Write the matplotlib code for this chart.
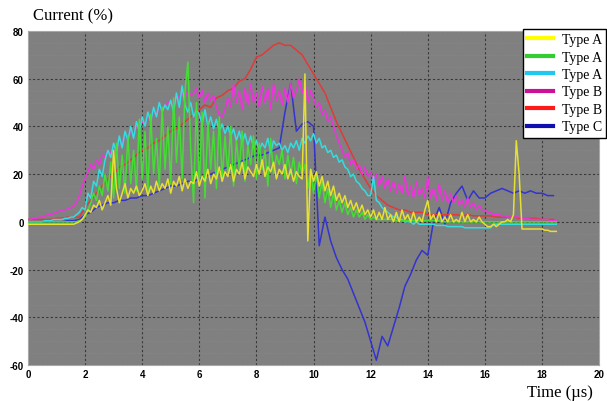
import numpy as np
import matplotlib
matplotlib.use("Agg")
import matplotlib.pyplot as plt
from matplotlib.ticker import MultipleLocator

# time bases (us): fine one for the noisy traces, coarse one for the smooth ones
t_fine = np.round(np.arange(0, 18.55, 0.1), 2)
t_coarse = np.round(np.arange(0, 18.45, 0.2), 2)

yellow_a = [
    -1, -1, -1, -1, -1, -1, -1, -1, -1, -1,
    -1, -1, -1, -1, -1, -1, -1, -0.5, 0, 1,
    3, 5, 4, 7, 6, 9, 5, 8, 11, 7,
    30, 14, 8, 12, 16, 10, 14, 12, 15, 11,
    13, 16, 11, 15, 12, 17, 13, 16, 14, 18,
    12, 17, 15, 19, 13, 18, 14, 17, 16, 21,
    15, 19, 17, 22, 16, 20, 18, 23, 17, 21,
    19, 24, 17, 22, 20, 25, 18, 23, 21, 19,
    24, 20, 26, 19, 23, 21, 25, 18, 22, 20,
    24, 18, 22, 17, 21, 19, 18, 62, -8, 22,
    17, 21, 15, 19, 13, 17, 11, 15, 9, 12,
    8, 11, 6, 9, 5, 8, 4, 7, 3, 5,
    2, 5, 1, 4, 1, 6, 1, 3, 0, 4,
    0, 5, 1, 3, 0, 4, 0, 2, 0, 5,
    9, 1, 3, 0, 4, 0, 2, 0, 3, 0,
    1, 0, 4, 0, 3, 0, 1, 0, 2, 0,
    -1, -2, -2, -1, -2, -1, 0, 0, 1, 0,
    3, 34, 20, -3, -3, -3, -3, -3, -3, -3,
    -3, -3.5, -3.5, -4, -4, -4,
]

green_a = [
    0, 0, 0, 0, 0, 0, 0, 0, 0, 0,
    0, 0, 0, 0, 0, 0, 0, 0, 0.5, 1,
    2, 5, 8, 12, 9, 15, 11, 20, 13, 25,
    10, 33, 14, 28, 12, 36, 16, 30, 13, 43,
    18, 38, 12, 45, 20, 35, 15, 48, 22, 40,
    16, 52, 25, 44, 18, 55, 67, 30, 8, 50,
    15, 46, 10, 42, 22, 38, 14, 44, 18, 36,
    20, 40, 15, 34, 22, 38, 17, 32, 24, 36,
    18, 33, 22, 30, 15, 35, 20, 28, 24, 30,
    18, 28, 20, 27, 16, 25, 20, 24, 14, 22,
    12, 20, 10, 17, 8, 14, 6, 12, 5, 9,
    4, 8, 3, 6, 2, 5, 2, 4, 1, 3,
    1, 2, 1, 1, 1, 1, 1, 1, 1, 0.5,
    0.5, 0.5, 0.5, 0.5, 0.5, 0.5, 0.5, 0.5, 0.5, 0.5,
    0.5, 0.5, 0.5, 0.5, 0.5, 0, 0, 0, 0, 0,
    0, 0, 0, 0, 0, 0, 0, 0, 0, 0,
    0, 0, 0, 0, 0, 0, 0, 0, 0, 0,
    0, 0, 0, 0, 0, 0, 0, 0, 0, 0,
    0, 0, 0, 0, 0, 0,
]

cyan_a = [
    0, 0, 0, 0, 0, 0, 0.5, 0.5, 0.5, 1,
    1, 1, 1, 1.5, 1.5, 2, 2, 3, 4, 6,
    5, 12, 10, 17, 15, 22, 19, 26, 30, 27,
    33, 29, 36, 31, 38, 34, 40, 35, 42, 38,
    44, 40, 46, 42, 48, 44, 50, 46, 49, 47,
    51, 46, 54, 48, 57, 49, 46, 50, 44, 47,
    45, 41, 47, 40, 44, 39, 43, 38, 41, 37,
    40, 36, 39, 34, 38, 33, 37, 32, 36, 31,
    34, 30, 33, 31, 35, 29, 34, 32, 33, 30,
    32, 29, 33, 31, 34, 30, 35, 33, 36, 34,
    37, 33, 35, 31, 32, 29, 30, 27, 28, 25,
    26, 23, 22, 19, 20, 17, 16, 14, 13, 11,
    11, 19, 9, 8, 6, 5, 4, 3, 2, 2,
    1, 1, 0, 0, 0, -1, 0, -1, -1, -1,
    -1, -1, -1, -1.5, -1.5, -1.5, -1.5, -2, -2, -2,
    -2, -2, -2, -2.5, -2.5, -2.5, -2.5, -2.5, -2.5, -2.5,
    -2.5, -2.5, -2.5, -1, -1, -1, -1, -1, -1, -1,
    -1, -1, -1, -1, -1, -1, -1, -1, -1, -1,
    -1, -1, -1, -1, -1, -1,
]

magenta_b = [
    1, 1, 1.5, 1.5, 2, 2, 2.5, 3, 3, 3.5,
    4, 4.5, 5, 5, 5.5, 6, 6.5, 8, 11, 15,
    18, 21, 24, 22, 26, 24, 28, 27, 30, 29,
    32, 30, 34, 33, 36, 35, 38, 37, 40, 39,
    42, 41, 44, 43, 46, 45, 48, 47, 49, 50,
    51, 49, 53, 52, 54, 52, 55, 53, 54, 56,
    52, 55, 50, 54, 51, 53, 48, 45, 44, 47,
    52, 48, 58, 50, 55, 47, 56, 49, 58, 50,
    54, 48, 57, 50, 56, 47, 58, 51, 55, 49,
    56, 50, 58, 52, 55, 60, 54, 58, 50, 55,
    52, 48, 50, 45, 47, 42, 44, 40, 36, 33,
    30, 27, 29, 24, 26, 22, 24, 20, 23, 19,
    21, 17, 20, 15, 19, 14, 18, 13, 17, 12,
    16, 12, 19, 11, 15, 10, 17, 11, 14, 10,
    19, 10, 14, 9, 16, 9, 13, 8, 12, 8,
    11, 7, 9, 6, 10, 6, 8, 5, 7, 5,
    5, 4, 4, 3, 3, 3, 2.5, 2.5, 2, 2,
    2, 2, 2, 1.5, 1.5, 1.5, 1, 1, 1, 1,
    1, 1, 1, 0.5, 0.5, 0.5,
]

red_b = [
    1, 1, 1, 1, 1, 1.5, 1.5, 2, 2, 2,
    6, 9, 12, 15, 18, 20, 23, 24, 26, 28,
    30, 31, 33, 34, 36, 38, 39, 41, 43, 45,
    47, 49, 48, 52, 53, 55, 56, 59, 60, 64,
    69, 70, 72, 74, 75, 74, 74, 72, 70, 66,
    62, 58, 54, 48, 42, 37, 32, 27, 22, 18,
    14, 11, 9, 7, 6, 5, 5, 4, 4, 4,
    3, 3, 3, 3, 3, 3, 2.5, 3, 2.5, 2.5,
    2.5, 2.5, 2, 2, 2, 2, 1.5, 1.5, 1.5, 1.5,
    1, 1, 1,
]

blue_c = [
    0, 0, 0, 0, 0, 0, 0, 0.5, 0.5, 1,
    3, 4, 6, 7, 8, 8, 9, 9, 10, 10,
    11, 11, 12, 13, 14, 15, 15, 16, 17, 17,
    18, 19, 20, 21, 22, 23, 24, 25, 26, 27,
    28, 28, 29, 30, 31, 46, 58, 38, 41, 42,
    40, -10, 2, -8, -15, -20, -24, -30, -36, -42,
    -50, -58, -48, -52, -44, -36, -27, -22, -16, -12,
    -14, 0, 6, -1, 8, 12, 15, 9, 13, 10,
    10, 12, 13, 14, 13, 12, 13, 12, 13, 12,
    12, 11, 11,
]

series = [
    (t_fine, yellow_a, "Type A", "#e6e030", "#ffff00", 7),
    (t_fine, green_a, "Type A", "#44dd33", "#33cc33", 6),
    (t_fine, cyan_a, "Type A", "#33dde0", "#1ec8f0", 5),
    (t_fine, magenta_b, "Type B", "#ee33dd", "#cc1199", 4),
    (t_coarse, red_b, "Type B", "#e03a3a", "#ff1a1a", 3),
    (t_coarse, blue_c, "Type C", "#3333d0", "#1010b0", 2),
]

fig = plt.figure(figsize=(6.07, 4.02), dpi=100)
ax = fig.add_axes([0.046, 0.0896, 0.941, 0.8308])
ax.set_facecolor("#808080")

for t, v, lab, col, lcol, z in series:
    ax.plot(t, v, color=col, lw=1.1, zorder=z)

ax.set_xlim(0, 20)
ax.set_ylim(-60, 80)
ax.set_xticks(range(0, 21, 2))
ax.set_yticks(range(-60, 81, 20))
ax.set_yticklabels(["-60", "-40", "-20", "0", "20", "40", "60", "80"])
ax.yaxis.set_minor_locator(MultipleLocator(5))
ax.tick_params(which="both", length=0)
ax.tick_params(axis="y", pad=3)
ax.tick_params(axis="x", pad=3)
for lbl in ax.get_xticklabels() + ax.get_yticklabels():
    lbl.set_fontfamily("Liberation Sans")
    lbl.set_fontweight("bold")
    lbl.set_fontsize(7)
ax.grid(which="major", color="#383838", linestyle=(0, (2, 2)), lw=0.8)
ax.grid(which="minor", axis="y", color="#959595", linestyle=(0, (1, 3)), lw=0.4)
ax.set_axisbelow(True)
for s in ax.spines.values():
    s.set_color("#a8a8a8")
    s.set_linewidth(0.8)

handles = [plt.Line2D([], [], color=lc, lw=3) for _, _, _, _, lc, _ in series]
labels = [lab for _, _, lab, _, _, _ in series]
leg = ax.legend(handles, labels, loc="upper right", bbox_to_anchor=(1.012, 1.006),
                prop={"family": "Liberation Serif", "size": 10},
                frameon=True, fancybox=False, framealpha=1, edgecolor="black",
                borderpad=0.3, labelspacing=0.32, handlelength=1.9,
                handletextpad=0.6, borderaxespad=0)
leg.get_frame().set_linewidth(1.0)
leg.set_zorder(10)

fig.text(0.054, 0.958, "Current (%)", fontfamily="Liberation Serif", fontsize=12,
         va="center", ha="left")
fig.text(0.868, 0.022, "Time (\u00b5s)", fontfamily="Liberation Serif", fontsize=12,
         va="center", ha="left")

fig.savefig("out.png", dpi=100)
